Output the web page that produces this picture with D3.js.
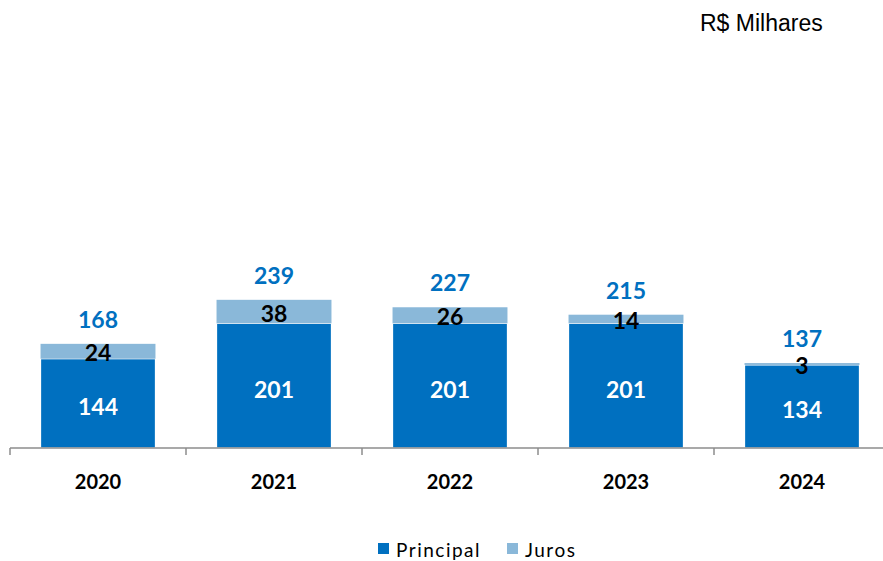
<!DOCTYPE html>
<html><head><meta charset="utf-8">
<script src="https://cdn.jsdelivr.net/npm/d3@7"></script>
<style>body{margin:0;background:#fff;}svg{display:block;}</style>
</head><body>
<svg id="c" width="883" height="561"></svg>
<script>
const years = ["2020","2021","2022","2023","2024"];
const principal = [144,201,201,201,134];
const juros = [24,38,26,14,3];
const totals = [168,239,227,215,137];
const seriesNames = ["Principal","Juros"];
const colors = ["#0070C0","#8AB8D9"];
const unitLabel = "R$ Milhares";

const svg = d3.select("#c");
const x = d3.scaleBand().domain(years).range([10, 890]).paddingInner(0.347).paddingOuter(0.1735);
const y = d3.scaleLinear().domain([0, 300]).range([448, 262]);

const data = years.map((yr,i)=>({year:yr, principal:principal[i], juros:juros[i], total:totals[i]}));
const stack = d3.stack().keys(["principal","juros"])(data);

stack.forEach((layer,li)=>{
  svg.append("g").selectAll("rect").data(layer).join("rect")
    .attr("x", d=>x(d.data.year))
    .attr("width", x.bandwidth())
    .attr("y", d=>y(d[1]))
    .attr("height", d=>y(d[0])-y(d[1]))
    .attr("fill", colors[li])
    .attr("stroke", "#fff").attr("stroke-width", li===0 ? 1.2 : 0);
});

// axis
const axisG = svg.append("g").attr("transform","translate(0,448)");
axisG.append("line").attr("x1",10).attr("x2",883).attr("y1",0).attr("y2",0).attr("stroke","#8c8c8c").attr("stroke-width",1.5);
const step = x.step();
d3.range(years.length).forEach(i=>{
  const bx = 10 + i*step;
  axisG.append("line").attr("x1",bx).attr("x2",bx).attr("y1",0).attr("y2",7).attr("stroke","#8c8c8c").attr("stroke-width",1.5);
});
const xAxis = d3.axisBottom(x).tickSize(0).tickPadding(0);
const ax = svg.append("g").attr("transform","translate(0,448)").call(xAxis);
ax.select(".domain").remove();
ax.selectAll("text").attr("dy",null).attr("y",41)
  .style("font-family","Lato").style("font-weight","bold").style("font-size","20px").attr("fill","#000");

const cx = d=>x(d.year)+x.bandwidth()/2;
const lblFont = "23px";
// principal labels
svg.append("g").selectAll("text").data(data).join("text")
  .attr("x",cx).attr("y",d=>(y(0)+y(d.principal))/2+12)
  .attr("text-anchor","middle").attr("fill","#fff")
  .style("font-family","Lato").style("font-weight","bold").style("font-size",lblFont)
  .text(d=>d.principal);
// juros labels
svg.append("g").selectAll("text").data(data).join("text")
  .attr("x",cx).attr("y",d=>(y(d.principal)+y(d.principal+d.juros))/2+10)
  .attr("text-anchor","middle").attr("fill","#000")
  .style("font-family","Lato").style("font-weight","bold").style("font-size",lblFont)
  .text(d=>d.juros);
// totals
svg.append("g").selectAll("text").data(data).join("text")
  .attr("x",cx).attr("y",d=>y(d.total)-16)
  .attr("text-anchor","middle").attr("fill","#0070C0")
  .style("font-family","Lato").style("font-weight","bold").style("font-size",lblFont)
  .text(d=>d.total);

// unit label
svg.append("text").attr("x",700).attr("y",31).attr("fill","#000")
  .style("font-family","Liberation Sans").style("font-size","23px").text(unitLabel);

// legend
const legX = [378, 507];
seriesNames.forEach((n,i)=>{
  svg.append("rect").attr("x",legX[i]).attr("y",543).attr("width",11).attr("height",11).attr("fill",colors[i]);
  svg.append("text").attr("x",legX[i]+18).attr("y",557).attr("fill","#000")
    .style("font-family","Lato").style("font-size","19px").style("letter-spacing","1.5px").text(n);
});
</script>
</body></html>
